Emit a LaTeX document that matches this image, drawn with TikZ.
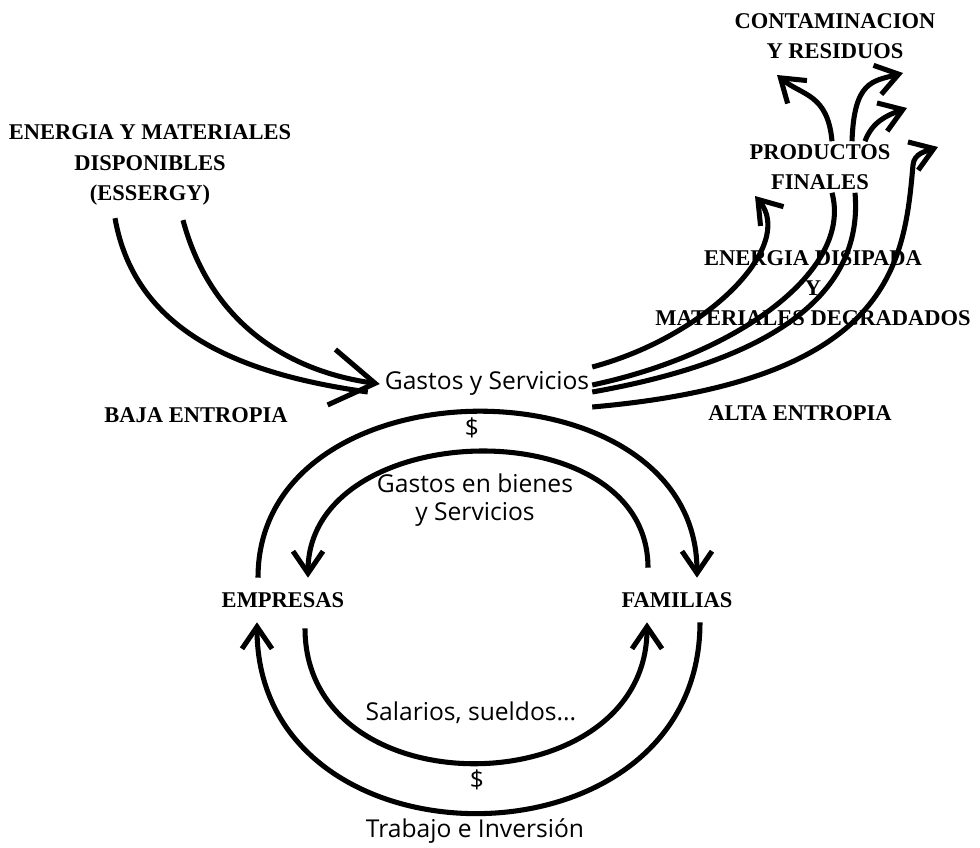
\documentclass[tikz,border=0pt]{standalone}
\usepackage{fontspec}
\newfontfamily\flowfont{Open Sans}
\newfontfamily\capsfont{Liberation Serif}
\usetikzlibrary{arrows.meta}
\begin{document}
\begin{tikzpicture}
[x=0.025cm,y=0.025cm,
  capsdecorate/.style={align=center,inner sep=2pt,font=\capsfont\bfseries\fontsize{16}{21.5}\selectfont},
  lowdecorate/.style={align=center,inner sep=2pt,font=\flowfont\fontsize{17.5}{20}\selectfont},
  sectordecorate/.style={capsdecorate,minimum height=1.1cm},
  flowdecorate/.style={line width=3.6pt},
  arrowdecorate/.style={flowdecorate,-{Straight Barb[length=0.55cm,width=0.75cm]}},
  bigarrowdecorate/.style={flowdecorate,-{Straight Barb[length=1.1cm,width=1.4cm]}}]
\useasboundingbox (0,0) rectangle (980,-848);
%% nodes or texts
\foreach \nodename/\x/\y/\look/\txt in {
  energia/150/-165/capsdecorate/{ENERGIA Y MATERIALES\\DISPONIBLES\\(ESSERGY)},
  contam/835/-36/capsdecorate/{CONTAMINACION\\Y RESIDUOS},
  prod/820/-167/capsdecorate/{PRODUCTOS\\FINALES},
  disip/813/-288/capsdecorate/{ENERGIA DISIPADA\\Y\\MATERIALES DEGRADADOS},
  gastos/487/-383/lowdecorate/{Gastos y Servicios},
  baja/196/-415/capsdecorate/{BAJA ENTROPIA},
  alta/800/-413/capsdecorate/{ALTA ENTROPIA},
  dolarup/472/-428/lowdecorate/{\$},
  bienes/475/-500/lowdecorate/{Gastos en bienes\\y Servicios},
  emp/283/-600/sectordecorate/{EMPRESAS},
  fam/677/-600/sectordecorate/{FAMILIAS},
  salarios/471/-713/lowdecorate/{Salarios, sueldos...},
  dolardown/477/-780/lowdecorate/{\$},
  trabajo/475/-831/lowdecorate/{Trabajo e Inversión}} {
  \node (\nodename) at (\x,\y) [\look] {\txt};
}
%% free ends of the outputs
\foreach \nodename/\x/\y in {
  e1/755/-196, k4/913/-165, e4/938/-147, e5/777/-75, e6/903/-73, e7/907/-108} {
  \coordinate (\nodename) at (\x,\y);
}
%% inputs of low entropy
\draw[flowdecorate] ([shift={(-35,-10)}]energia.south)
  to[out=-80,in=172] ([shift={(-14,-9)}]gastos.west);
\draw[bigarrowdecorate] ([shift={(33,-12)}]energia.south)
  to[out=-75,in=172] ([shift={(-2,-1)}]gastos.west);
%% outputs of high entropy
\draw[arrowdecorate] ([shift={(0,16)}]gastos.east)
  to[out=15,in=-50,out distance=3cm,in distance=1.6cm] (e1);
\draw[flowdecorate] ([shift={(0,-2)}]gastos.east)
  to[out=12,in=-75,out distance=3.75cm,in distance=2cm] ([shift={(12,0)}]prod.south);
\draw[flowdecorate] ([shift={(0,-9)}]gastos.east)
  to[out=10,in=-85,out distance=5.5cm,in distance=2cm] ([shift={(35,0)}]prod.south);
\draw[arrowdecorate] ([shift={(0,-24)}]gastos.east)
  to[out=5,in=-95,out distance=7.5cm,in distance=2.5cm] (k4)
  to[out=85,in=200] (e4);
\draw[arrowdecorate] ([shift={(12,0)}]prod.north)
  to[out=95,in=-40,out distance=1.2cm,in distance=0.8cm] (e5);
\draw[arrowdecorate] ([shift={(32,0)}]prod.north)
  to[out=88,in=195,out distance=1.5cm,in distance=0.8cm] (e6);
\draw[arrowdecorate] ([shift={(45,0)}]prod.north)
  to[out=70,in=200] (e7);
%% money and real flows
\draw[arrowdecorate] ([shift={(-25,0)}]emp.north)
  to[out=90,in=90,looseness=1.29] ([shift={(20,0)}]fam.north);
\draw[arrowdecorate] ([shift={(-29,10)}]fam.north)
  to[out=90,in=90,looseness=1.21] ([shift={(25,0)}]emp.north);
\draw[arrowdecorate] ([shift={(22,-6)}]emp.south)
  to[out=-90,in=-90,looseness=1.37] ([shift={(-30,0)}]fam.south);
\draw[arrowdecorate] ([shift={(23,0)}]fam.south)
  to[out=-90,in=-90,looseness=1.47] ([shift={(-26,0)}]emp.south);
\end{tikzpicture}
\end{document}
